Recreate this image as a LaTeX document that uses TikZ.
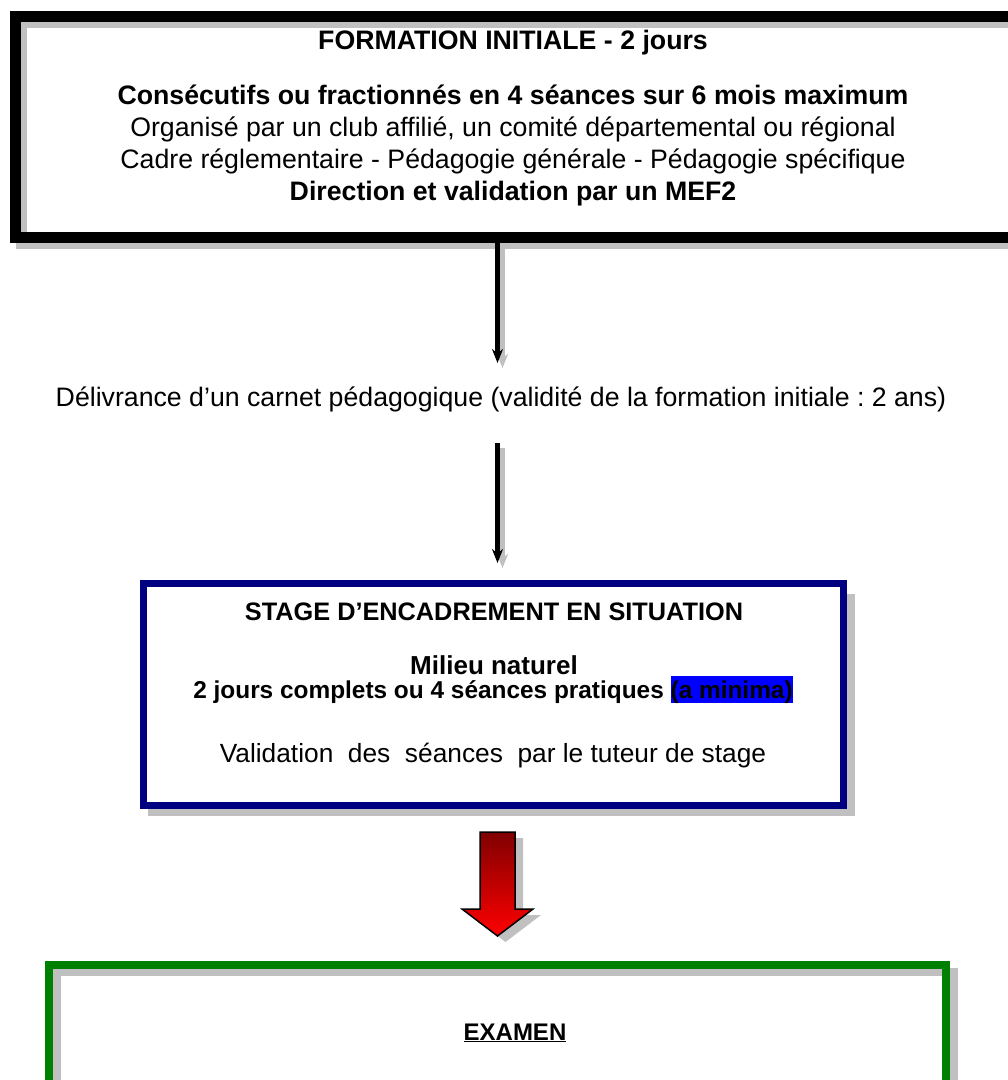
\documentclass[tikz,border=0pt]{standalone}
\usepackage{fontspec}
\setmainfont{Liberation Sans}
\usetikzlibrary{arrows.meta,calc,backgrounds}
\definecolor{shadowgray}{HTML}{C0C0C0}
\definecolor{navyb}{HTML}{000080}
\definecolor{greenb}{HTML}{008000}
\definecolor{darkredb}{HTML}{800000}
\definecolor{hiblue}{HTML}{0000FF}
\newcommand{\fsz}[1]{\fontsize{#1}{#1}\selectfont}
\frenchspacing
\begin{document}
\begin{tikzpicture}[x=1pt,y=-1pt,
  boxframe/.style={outer sep=0pt, inner sep=0pt},
  txt/.style={anchor=base, inner sep=0pt, outer sep=0pt, align=center},
  arr/.style={line width=4.5pt, -{Stealth[length=14pt,width=11pt]}},
  arrshadow/.style={line width=4.5pt, draw=shadowgray, -{Stealth[length=14pt,width=11pt]}}
]
\useasboundingbox (0,0) rectangle (1008,1080);

% ---------- top box ----------
\node[boxframe, draw=black, line width=11pt, minimum width=1001pt, minimum height=221.5pt] (topbox) at (515.5,126.75) {};
\node[txt, font=\fsz{26.7}\bfseries] (t1) at (513,49) {FORMATION INITIALE - 2 jours};
\node[txt, font=\fsz{26.7}\bfseries] (t2) at (513,104) {Consécutifs ou fractionnés en 4 séances sur 6 mois maximum};
\node[txt, font=\fsz{26.7}] (t3) at (513,136) {Organisé par un club affilié, un comité départemental ou régional};
\node[txt, font=\fsz{26.7}] (t4) at (513,168) {Cadre réglementaire - Pédagogie générale - Pédagogie spécifique};
\node[txt, font=\fsz{26.7}\bfseries] (t5) at (513,200) {Direction et validation par un MEF2};

% ---------- arrow 1 ----------
\coordinate (e1) at (497.5,363);
\draw[arrshadow] ($(topbox.south -| e1)+(5,5)$) -- ($(e1)+(5,5)$);
\draw[arr] (topbox.south -| e1) -- (e1);

% ---------- middle text ----------
\node[txt, font=\fsz{26.7}] (deliv) at (501,406) {Délivrance d’un carnet pédagogique (validité de la formation initiale : 2 ans)};

% ---------- arrow 2 ----------
\coordinate (s2) at (497.5,443);
\coordinate (e2) at (497.5,563);
\draw[arrshadow] ($(s2)+(5,5)$) -- ($(e2)+(5,5)$);
\draw[arr] (s2) -- (e2);

% ---------- stage box ----------
\node[boxframe, draw=navyb, fill=white, line width=7pt, minimum width=699.5pt, minimum height=222pt] (stage) at (493.25,694.5) {};
\node[txt, font=\fsz{25.3}\bfseries] (s1) at (494,620) {STAGE D’ENCADREMENT EN SITUATION};
\node[txt, font=\fsz{26}\bfseries] (s2t) at (494,674) {Milieu naturel};
\node[txt, font=\fsz{24.4}\bfseries] (s3) at (493,698) {2 jours complets ou 4 séances pratiques {\setlength{\fboxsep}{0pt}\colorbox{hiblue}{\rule[-0.22em]{0pt}{1.12em}(a minima)}}};
\node[txt, font=\fsz{26.3}] (s4) at (493,762) {Validation\ \ des\ \ séances\ \ par le tuteur de stage};

% ---------- red block arrow ----------
\fill[shadowgray, shift={(8,6)}] (480,832) -- (515,832) -- (515,909) -- (533,909) -- (497.5,936) -- (462,909) -- (480,909) -- cycle;
\shade[top color=darkredb, bottom color=red, draw=black, line width=1.5pt, line join=miter]
  (480,832) -- (515,832) -- (515,909) -- (533,909) -- (497.5,936) -- (462,909) -- (480,909) -- cycle;

% ---------- exam box ----------
\node[boxframe, draw=greenb, line width=8pt, minimum width=897pt, minimum height=135pt] (exam) at (497.5,1032.5) {};
\node[txt, font=\fsz{24}\bfseries] (ex) at (515,1040) {\underline{EXAMEN}};

% ---------- shadows (behind) ----------
\begin{pgfonlayer}{background}
  \fill[white] (0,0) rectangle (1008,1080);
  \draw[shadowgray, line width=11pt] ($(topbox.north west)+(6,6)$) rectangle ($(topbox.south east)+(6,6)$);
  \fill[shadowgray] ($(stage.north west)+(4.5,10.5)$) rectangle ($(stage.south east)+(11.5,10.5)$);
  \draw[shadowgray, line width=8pt] ($(exam.north west)+(8,7)$) rectangle ($(exam.south east)+(8,7)$);
\end{pgfonlayer}
\end{tikzpicture}
\end{document}
